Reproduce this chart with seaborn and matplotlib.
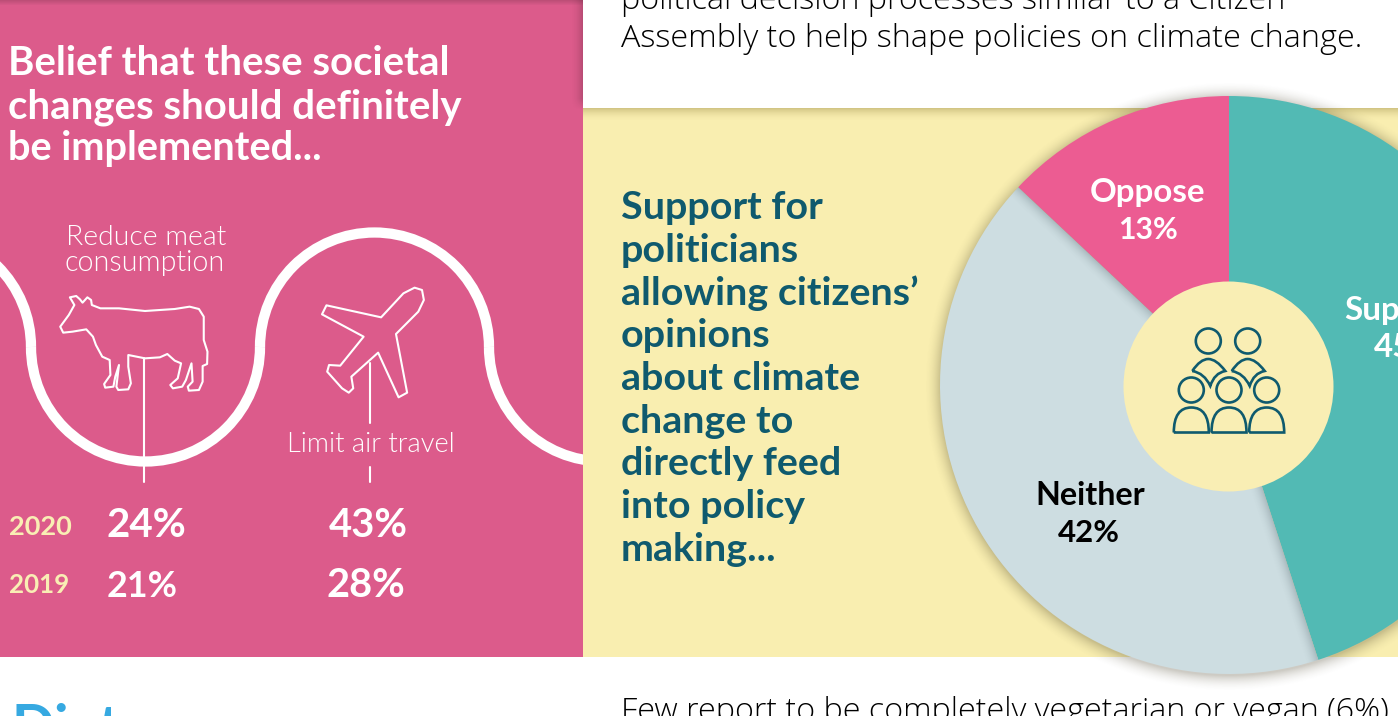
import numpy as np
import matplotlib
matplotlib.use("Agg")
import matplotlib.pyplot as plt
from matplotlib.patches import Arc, Circle, PathPatch, Polygon, Rectangle
from matplotlib.path import Path
import seaborn as sns

# Survey figures
years = ["2020", "2019"]
meat_pct = [24, 21]
air_pct = [43, 28]
support_labels = ["Support", "Neither", "Oppose"]
support_pct = [45, 42, 13]

PINK = "#DC5B8B"
YELLOW = "#F9EEB0"
TEAL = "#0F5A6E"
BLUE = "#36A9E1"
CREAM = "#F9EEB4"
slice_colors = sns.color_palette(["#52BAB4", "#CDDDE1", "#EC5C92"])

sns.set_theme(style="white")
plt.rcParams["font.family"] = ["Lato", "DejaVu Sans"]

W, H = 1398, 716
fig = plt.figure(figsize=(W / 100, H / 100), dpi=100, facecolor="white")


def pixel_axes(invert=True):
    ax = fig.add_axes([0, 0, 1, 1])
    ax.set_xlim(0, W)
    ax.set_ylim(H, 0) if invert else ax.set_ylim(0, H)
    ax.axis("off")
    ax.patch.set_alpha(0)
    return ax


def reset_limits(ax, invert=True):
    ax.set_xlim(0, W)
    ax.set_ylim(H, 0) if invert else ax.set_ylim(0, H)
    ax.set_aspect("auto")


back = pixel_axes()
back.add_patch(Rectangle((583, 108), W - 583, 549, color=YELLOW, lw=0))
back.add_patch(Rectangle((0, 0), 583, 657, color=PINK, lw=0))

# Shading under the white text block: on the yellow band and inside the pink panel's edge
band_rgba = np.zeros((30, 1, 4))
band_rgba[..., :3] = (0.45, 0.38, 0.1)
band_rgba[..., 3] = 0.30 * np.linspace(1, 0, 30).reshape(-1, 1) ** 2
back.imshow(band_rgba, extent=(583, W, 122, 108), aspect="auto", zorder=3)
top = np.zeros((6, 1, 4))
top[..., 3] = 0.14 * np.linspace(1, 0, 6).reshape(-1, 1)
back.imshow(top, extent=(0, 583, 6, 0), aspect="auto", zorder=3)
side = np.zeros((110, 14, 4))
side[..., 3] = (0.16 * np.linspace(0, 1, 14).reshape(1, -1) ** 2
                * np.clip(np.linspace(10, 0, 110).reshape(-1, 1), 0, 1))
back.imshow(side, extent=(569, 583, 110, 0), aspect="auto", zorder=3)

# Drop shadow around the pie
yy, xx = np.mgrid[70:716, 900:W]
dist = np.hypot(xx - 1229, yy - 386) - 289
shadow = np.zeros(dist.shape + (4,))
shadow[..., :3] = (0.25, 0.22, 0.12)
shadow[..., 3] = 0.26 * np.clip(1 - dist / 17, 0, 1) ** 2
back.imshow(shadow, extent=(900, W, 716, 70), aspect="auto", zorder=4)
reset_limits(back)

# Winding white ribbon across the pink panel
for cx, (t1, t2) in zip([-83.5, 145.5, 374.5, 603.5], [(180, 360), (0, 180), (180, 360), (0, 180)]):
    arc = Arc((cx, 347), 229, 229, theta1=t1, theta2=t2, color="white", lw=7.4, zorder=5)
    back.add_patch(arc)
    arc.set_clip_path(Rectangle((0, 0), 583, 657, transform=back.transData))

# Connector lines
for x, y0, y1 in [(143.5, 358, 482), (369.5, 363, 423), (369.5, 467, 482)]:
    sns.lineplot(x=[x, x], y=[y0, y1], color="white", lw=1.5, ax=back, zorder=6, sort=False,
                 estimator=None)


def outline(points, sx=1568 / 583, sy=3, ox=0, oy=210):
    return [(ox + px / sx, oy + py / sy) for px, py in points]


cow = [(188, 262), (205, 258), (215, 268), (222, 278), (235, 262), (245, 270), (247, 285), (270, 295),
       (320, 295), (390, 303), (470, 297), (510, 290), (535, 297), (548, 320), (548, 390), (558, 425),
       (557, 462), (545, 468), (545, 515), (535, 540), (508, 542), (505, 530), (518, 515), (515, 460),
       (500, 510), (490, 530), (465, 535), (458, 525), (478, 505), (487, 460), (470, 452), (450, 432),
       (430, 442), (390, 445), (345, 435), (345, 470), (352, 520), (345, 538), (318, 540), (313, 530),
       (320, 465), (310, 500), (305, 530), (283, 533), (280, 522), (297, 495), (295, 450), (275, 440),
       (258, 405), (250, 380), (232, 358), (195, 365), (170, 368), (162, 350), (185, 315), (200, 285)]
plane = [(878, 286), (1025, 322), (1085, 250), (1115, 233), (1135, 240), (1140, 270), (1125, 305),
         (1065, 372), (1095, 548), (1072, 562), (1017, 428), (945, 500), (950, 535), (938, 548),
         (920, 535), (880, 485), (885, 465), (915, 467), (978, 380), (866, 313)]
for shape in (cow, plane):
    back.add_patch(Polygon(outline(shape), closed=True, fill=False, ec="white", lw=1.5,
                           joinstyle="round", zorder=7))

# Pie chart, drawn in unflipped axes so clockwise stays clockwise
pie_ax = pixel_axes(invert=False)
centre = (1229, H - 385)
wedges, _ = pie_ax.pie(support_pct, colors=slice_colors, startangle=90, counterclock=False,
                       center=centre, radius=289, frame=True, wedgeprops={"lw": 0})

# The neighbouring slices cast a soft shadow onto the grey one
gy, gx = np.mgrid[0:H, 900:W]
gx = gx - centre[0]
gy = (H - gy) - centre[1]
edge_angles = np.radians(np.cumsum(support_pct)[:2] * 3.6)
near = np.zeros(gx.shape)
for a in edge_angles:
    d = np.abs(gx * np.cos(a) - gy * np.sin(a))
    near = np.maximum(near, np.clip(1 - d / 14, 0, 1) ** 2)
slice_shadow = np.zeros(gx.shape + (4,))
slice_shadow[..., :3] = (0.2, 0.27, 0.3)
slice_shadow[..., 3] = 0.24 * near
img = pie_ax.imshow(slice_shadow, extent=(900, W, 0, H), origin="upper", aspect="auto", zorder=3)
img.set_clip_path(wedges[1])
reset_limits(pie_ax, invert=False)
pie_ax.axis("off")

front = pixel_axes()
front.add_patch(Circle((1228.5, 386.5), 105, color=CREAM, lw=0))

# Audience icon in the middle of the pie
icon = dict(fill=False, ec=TEAL, lw=1.9)
for cx in (1208.3, 1247.7):
    front.add_patch(Circle((cx, 341), 12.5, **icon))
    shoulder = Path([(cx - 16, 371), (cx - 8, 359), (cx, 359), (cx + 8, 359), (cx + 17, 371),
                     (cx + 6, 373), (cx + 2, 386), (cx - 4, 373), (cx - 16, 371)],
                    [Path.MOVETO, Path.CURVE3, Path.CURVE3, Path.CURVE3, Path.CURVE3,
                     Path.CURVE3, Path.CURVE3, Path.CURVE3, Path.CURVE3])
    front.add_patch(PathPatch(shoulder, **icon))
for cx in (1191.3, 1229, 1266.7):
    front.add_patch(Circle((cx, 390), 12.5, **icon))
    body = Path([(cx - 17.5, 432.5), (cx - 17.5, 407.5), (cx, 407.5), (cx + 17.5, 407.5),
                 (cx + 17.5, 432.5), (cx - 17.5, 432.5)],
                [Path.MOVETO, Path.CURVE3, Path.CURVE3, Path.CURVE3, Path.CURVE3, Path.LINETO])
    front.add_patch(PathPatch(body, **icon))

renderer = fig.canvas.get_renderer()


def label(x0, x1, base, s, color, weight="bold", family="Lato", size=None):
    """Place text on a baseline, scaling it so it spans x0..x1 when no size is given."""
    t = front.text(x0, base, s, color=color, fontweight=weight, family=family, va="baseline",
                   ha="left", fontsize=size or 20, clip_on=False)
    if size is None:
        bb = t.get_window_extent(renderer)
        t.set_fontsize(20 * (x1 - x0) / bb.width)
    return t


# Pink panel heading
label(8, 449, 75, "Belief that these societal", "white")
label(8, 461, 118, "changes should definitely", "white")
label(8, 323, 160, "be implemented...", "white")

label(66, 226, 245, "Reduce meat", "white", weight=300)
label(65, 225, 271, "consumption", "white", weight=300)
label(287, 455, 452, "Limit air travel", "white", weight=300)

# Year-on-year percentages
label(9, 72, 535, years[0], CREAM)
label(9, 69, 593, years[1], CREAM)
label(107, 187, 537, f"{meat_pct[0]}%", "white")
label(107, 178, 597, f"{meat_pct[1]}%", "white")
label(329, 408, 537, f"{air_pct[0]}%", "white")
label(326, 405, 597, f"{air_pct[1]}%", "white")

# Body copy, cut off by the page edges
label(621, 1287, 9, "political decision processes similar to a Citizen", "black", weight=300, family="Open Sans")
label(621, 1364, 47, "Assembly to help shape policies on climate change.", "black", weight=300, family="Open Sans")
label(621, 1390, 720, "Few report to be completely vegetarian or vegan (6%)", "black", weight=300, family="Open Sans")
label(11, 120, 746, "Diet", BLUE)

# Yellow band heading
lines = ["Support for", "politicians", "allowing citizens’", "opinions", "about climate",
         "change to", "directly feed", "into policy", "making..."]
bases = [219, 262, 305, 347, 390, 433, 475, 518, 561]
ref = label(621, 918, bases[2], lines[2], TEAL)
for line, base in zip(lines, bases):
    if base != bases[2]:
        label(621, 0, base, line, TEAL, size=ref.get_fontsize())

# Pie labels
oppose = label(1090, 1206, 202, support_labels[2], "white")
label(1118, 1178, 239, f"{support_pct[2]}%", "white")
label(1035, 1145, 505, support_labels[1], "black")
label(1058, 1120, 542, f"{support_pct[1]}%", "black")
label(1344, 0, 320, support_labels[0], "white", size=oppose.get_fontsize())
label(1374, 0, 357, f"{support_pct[0]}%", "white", size=oppose.get_fontsize())

fig.savefig("out.png", dpi=100, facecolor="white")
